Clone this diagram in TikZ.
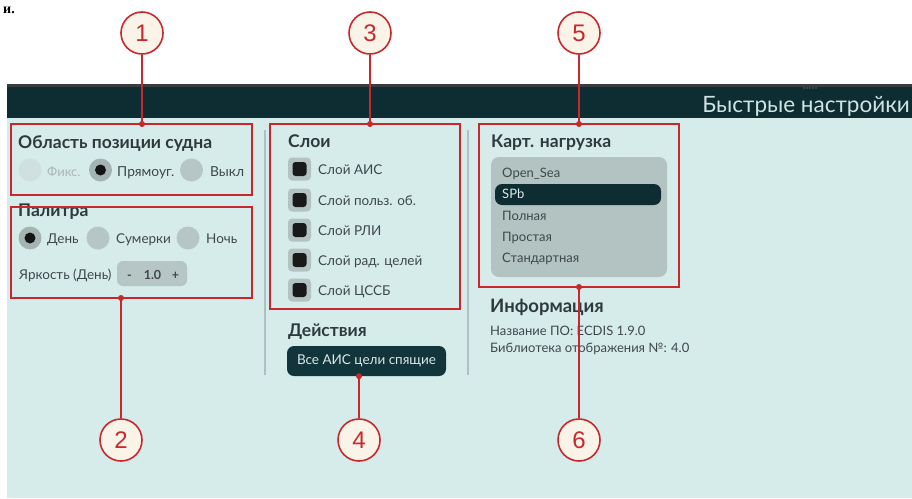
\documentclass[tikz,border=0pt]{standalone}
\usepackage{fontspec}
\setmainfont{Lato}
\newfontfamily\numfont{Liberation Sans}
\newfontfamily\serifbf{Liberation Serif}
\definecolor{panel}{HTML}{D6ECEB}
\definecolor{hdr}{HTML}{0D2D33}
\definecolor{hdrline}{HTML}{3A3D3E}
\definecolor{titlec}{HTML}{CFE3E2}
\definecolor{callred}{HTML}{C8282D}
\definecolor{cream}{HTML}{FAF4E8}
\definecolor{headc}{HTML}{2F3A3D}
\definecolor{txtc}{HTML}{3E484B}
\definecolor{fadec}{HTML}{A8B6B6}
\definecolor{radiog}{HTML}{B6C6C5}
\definecolor{radiod}{HTML}{CEE0DF}
\definecolor{radios}{HTML}{A4B4B3}
\definecolor{boxg}{HTML}{B3C3C2}
\definecolor{sepc}{HTML}{AFC0C3}
\definecolor{btnc}{HTML}{12353B}
\definecolor{btntxt}{HTML}{DBE9E9}
\begin{document}
\begin{tikzpicture}[x=1pt,y=-1pt,
  callout/.style={circle, draw=callred, fill=cream, line width=1.6pt, minimum size=42pt, inner sep=0pt, font=\numfont\fontsize{24}{24}\selectfont, text=callred},
  hlbox/.style={draw=callred, line width=2pt, rectangle, inner sep=0pt, outer sep=0pt},
  lead/.style={draw=callred, line width=1.6pt},
  head/.style={font=\bfseries\fontsize{17.5}{20}\selectfont, text=headc, anchor=base west, inner sep=0pt},
  lbl/.style={font=\fontsize{13}{15}\selectfont, text=txtc, anchor=base west, inner sep=0pt},
  radio/.style={circle, fill=radiog, minimum size=23pt, inner sep=0pt},
  chkout/.style={rectangle, rounded corners=4pt, fill=boxg, minimum size=23pt, inner sep=0pt},
  chkin/.style={rectangle, rounded corners=3pt, fill=black!90, minimum size=14pt, inner sep=0pt}
]
\useasboundingbox (0,0) rectangle (912,498);
\fill[white] (0,0) rectangle (912,498);
% text remnant at the top-left corner
\node[font=\serifbf\bfseries\fontsize{14}{14}\selectfont, anchor=base west, inner sep=0pt] (rem) at (3,13) {и.};
% window
\fill[panel] (7,118) rectangle (912,498);
\fill[hdrline] (7,84) rectangle (912,86.5);
\fill[hdr] (7,86.5) rectangle (912,118);
\foreach \gx in {804,807,...,816} \fill[gray!70] (\gx,88) circle (0.6);
\node[font=\fontsize{22.5}{25}\selectfont, text=titlec, anchor=base east, inner sep=0pt] (title) at (910,112) {Быстрые настройки};
% separators
\draw[sepc, line width=1.5pt] (265,130) -- (265,375);
\draw[sepc, line width=1.5pt] (468,130) -- (468,375);
% --- group 1
\node[head] (h1) at (18,148) {Область позиции судна};
\node[radio, fill=radiod] (r11) at (30,170) {};
\node[lbl, text=fadec] (l11) at (47,176) {Фикс.};
\node[radio, fill=radios] (r12) at (100.5,170) {};
\fill[black!92] (r12) circle (5.5);
\node[lbl, font=\fontsize{13.8}{15}\selectfont] (l12) at (117,176) {Прямоуг.};
\node[radio] (r13) at (191.5,170) {};
\node[lbl, font=\fontsize{13.8}{15}\selectfont] (l13) at (210,176) {Выкл};
% --- group 2
\node[head] (h2) at (18,216) {Палитра};
\node[radio, fill=radios] (r21) at (30,238) {};
\fill[black!92] (r21) circle (5.5);
\node[lbl, font=\fontsize{13.5}{15}\selectfont] (l21) at (47,243) {День};
\node[radio] (r22) at (98,238) {};
\node[lbl, font=\fontsize{13.5}{15}\selectfont] (l22) at (116,243) {Сумерки};
\node[radio] (r23) at (188,238) {};
\node[lbl, font=\fontsize{13.5}{15}\selectfont] (l23) at (206,243) {Ночь};
\node[lbl, font=\fontsize{13.5}{15}\selectfont] (bright) at (19,279) {Яркость (День)};
\fill[radiog, rounded corners=6pt] (117,261) rectangle (187,286);
\node[lbl, font=\bfseries\fontsize{12.5}{14}\selectfont, anchor=base] (pm) at (129.5,279) {-};
\node[lbl, font=\bfseries\fontsize{12.5}{14}\selectfont, anchor=base] (pv) at (152.5,279) {1.0};
\node[lbl, font=\bfseries\fontsize{12.5}{14}\selectfont, anchor=base] (pp) at (175.5,279) {+};
% --- group 3
\node[head] (h3) at (288,147) {Слои};
\foreach \yy/\tt [count=\i] in {169/Слой АИС, 200/Слой польз. об., 230/Слой РЛИ, 260/Слой рад. целей, 290/Слой ЦССБ}{
  \node[chkout] (co\i) at (299.5,\yy) {};
  \node[chkin] (ci\i) at (299.5,\yy) {};
  \node[lbl, font=\fontsize{13.5}{15}\selectfont] (cl\i) at (318,\yy+5) {\tt};
}
% actions
\node[head] (h4) at (288,336) {Действия};
\node[rectangle, rounded corners=7pt, fill=btnc, minimum width=159pt, minimum height=30pt, inner sep=0pt, text=btntxt, font=\fontsize{13.5}{15}\selectfont] (btn) at (366.5,361) {Все АИС цели спящие};
% --- group 5
\node[head] (h5) at (491,147) {Карт. нагрузка};
\fill[boxg, rounded corners=8pt] (491,157) rectangle (667,277);
\fill[hdr, rounded corners=7pt] (495,184) rectangle (661,205);
\node[lbl] (m1) at (502,177) {Open\_Sea};
\node[lbl, text=btntxt] (m2) at (502,198) {SPb};
\node[lbl] (m3) at (502,220) {Полная};
\node[lbl] (m4) at (502,241) {Простая};
\node[lbl] (m5) at (502,262) {Стандартная};
% info
\node[head, font=\bfseries\fontsize{18.5}{21}\selectfont] (h6) at (490,312) {Информация};
\node[lbl] (i1) at (490,335) {Название ПО: ECDIS 1.9.0};
\node[lbl] (i2) at (490,352) {Библиотека отображения №: 4.0};
% --- highlight boxes
\node[hlbox, minimum width=241pt, minimum height=71pt] (b1) at (131.5,159.5) {};
\node[hlbox, minimum width=241pt, minimum height=91pt] (b2) at (131.5,252.5) {};
\node[hlbox, minimum width=190pt, minimum height=185pt] (b3) at (365,216.5) {};
\node[hlbox, minimum width=200pt, minimum height=163pt] (b5) at (579,205.5) {};
% --- callouts
\node[callout] (c1) at (142,33) {1};
\node[callout] (c3) at (370,33) {3};
\node[callout] (c5) at (579,33) {5};
\node[callout] (c2) at (121,440) {2};
\node[callout] (c4) at (359,440) {4};
\node[callout] (c6) at (579,440) {6};
% leaders
\draw[lead] (c1) -- (b1.north -| c1);
\draw[lead] (c3) -- (b3.north -| c3);
\draw[lead] (c5) -- (b5.north);
\draw[lead] (c2) -- (b2.south -| c2);
\draw[lead] (c4) -- (btn.south -| c4);
\draw[lead] (c6) -- (b5.south);
\foreach \p in {(b1.north -| c1),(b3.north -| c3),(b5.north),(b2.south -| c2),(btn.south -| c4),(b5.south)}
  \fill[callred] \p circle (3);
\end{tikzpicture}
\end{document}
